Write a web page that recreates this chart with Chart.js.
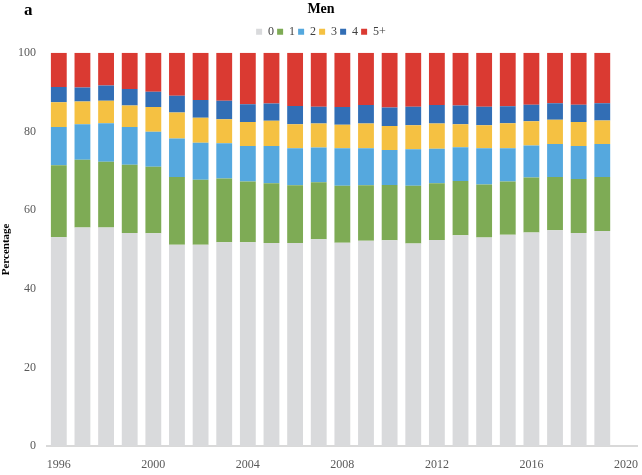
<!DOCTYPE html>
<html>
<head>
<meta charset="utf-8">
<script src="https://cdn.jsdelivr.net/npm/chart.js@4"></script>
<style>
  html, body { margin: 0; padding: 0; background: #ffffff; }
  #wrap { width: 642px; height: 475px; position: relative; }
</style>
</head>
<body>
<div id="wrap"><canvas id="menChart"></canvas></div>
<script>
// Years on the x axis (2020 is an empty slot so the last tick fits)
const years = [1996, 1997, 1998, 1999, 2000, 2001, 2002, 2003, 2004, 2005, 2006, 2007,
               2008, 2009, 2010, 2011, 2012, 2013, 2014, 2015, 2016, 2017, 2018, 2019, 2020];
const tickYears = [1996, 2000, 2004, 2008, 2012, 2016, 2020];

// Percentage of men in each group
const share0 = [53.1, 55.6, 55.6, 54.2, 54.1, 51.2, 51.2, 51.8, 51.8, 51.6, 51.6, 52.6,
                51.7, 52.2, 52.3, 51.5, 52.4, 53.6, 53.0, 53.7, 54.3, 54.9, 54.2, 54.7];
const share1 = [18.3, 17.2, 16.7, 17.3, 16.9, 17.2, 16.5, 16.2, 15.5, 15.2, 14.7, 14.5,
                14.5, 14.1, 14.1, 14.7, 14.4, 13.8, 13.5, 13.6, 14.0, 13.5, 13.7, 13.7];
const share2 = [9.7, 9.0, 9.8, 9.6, 8.9, 9.8, 9.4, 9.0, 9.0, 9.5, 9.4, 8.8,
                9.5, 9.4, 8.9, 9.3, 8.8, 8.6, 9.2, 8.4, 8.1, 8.4, 8.4, 8.4];
const share3 = [6.3, 5.8, 5.7, 5.5, 6.3, 6.6, 6.4, 6.1, 6.1, 6.4, 6.1, 6.1,
                6.0, 6.3, 6.1, 6.1, 6.4, 5.8, 5.9, 6.4, 6.2, 6.2, 6.1, 6.0];
const share4 = [3.9, 3.6, 3.9, 4.2, 3.9, 4.3, 4.5, 4.7, 4.5, 4.4, 4.7, 4.3,
                4.5, 4.7, 4.7, 4.7, 4.7, 4.8, 4.7, 4.3, 4.2, 4.2, 4.4, 4.4];
const share5plus = [8.7, 8.8, 8.3, 9.2, 9.9, 10.9, 12.0, 12.2, 13.1, 12.9, 13.5, 13.7,
                    13.8, 13.3, 13.9, 13.7, 13.3, 13.4, 13.7, 13.6, 13.2, 12.8, 13.2, 12.8];

const seriesNames = ['0', '1', '2', '3', '4', '5+'];
const seriesColors = ['#d9dadc', '#7eab55', '#55a8de', '#f5c142', '#326eb5', '#da3a32'];
const seriesData = [share0, share1, share2, share3, share4, share5plus];

const serif = "'Liberation Serif', 'Times New Roman', serif";

// Panel letter in the top left corner
const panelLetter = {
    id: 'panelLetter',
    afterDraw(chart) {
        const ctx = chart.ctx;
        ctx.save();
        ctx.font = 'bold 17px ' + serif;
        ctx.fillStyle = '#000';
        ctx.textBaseline = 'middle';
        ctx.fillText('a', 24, 11);
        ctx.restore();
    }
};

const ctx = document.getElementById('menChart').getContext('2d');
const menChart = new Chart(ctx, {
    type: 'bar',
    data: {
        labels: years,
        datasets: seriesNames.map(function(name, i) {
            return {
                label: name,
                data: seriesData[i],
                backgroundColor: seriesColors[i],
                borderWidth: 0,
                barPercentage: 0.67,
                categoryPercentage: 1.0
            };
        })
    },
    options: {
        responsive: true,
        maintainAspectRatio: false,
        animation: false,
        layout: { padding: 0 },
        plugins: {
            title: {
                display: true,
                text: 'Men',
                color: '#000',
                font: { family: serif, size: 14, weight: 'bold' },
                padding: { top: 1, bottom: 5 }
            },
            legend: {
                position: 'top',
                labels: {
                    boxWidth: 6,
                    boxHeight: 6,
                    padding: 3,
                    color: '#404040',
                    font: { family: serif, size: 12 }
                }
            },
            tooltip: { enabled: false }
        },
        scales: {
            x: {
                stacked: true,
                grid: { display: false },
                border: { display: true, color: '#d9d9d9', width: 2 },
                ticks: {
                    autoSkip: false,
                    maxRotation: 0,
                    color: '#595959',
                    font: { family: serif, size: 12 },
                    padding: 4,
                    callback: function(value) {
                        const yr = years[value];
                        return tickYears.includes(yr) ? String(yr) : '';
                    }
                },
                afterFit: function(scale) { scale.height = 29; }
            },
            // empty strip that keeps a gap between the legend and the bars
            xGap: {
                position: 'top',
                grid: { display: false },
                border: { display: false },
                ticks: { display: false },
                afterFit: function(scale) { scale.height = 5; }
            },
            y: {
                stacked: true,
                min: 0,
                max: 100,
                grid: { display: false },
                border: { display: false },
                ticks: {
                    stepSize: 20,
                    color: '#595959',
                    font: { family: serif, size: 12 },
                    padding: 3
                },
                title: {
                    display: true,
                    text: 'Percentage',
                    color: '#000',
                    font: { family: serif, size: 11, weight: 'bold' },
                    padding: 0
                },
                afterFit: function(scale) { scale.width = 47; }
            }
        }
    },
    plugins: [panelLetter]
});
</script>
</body>
</html>
